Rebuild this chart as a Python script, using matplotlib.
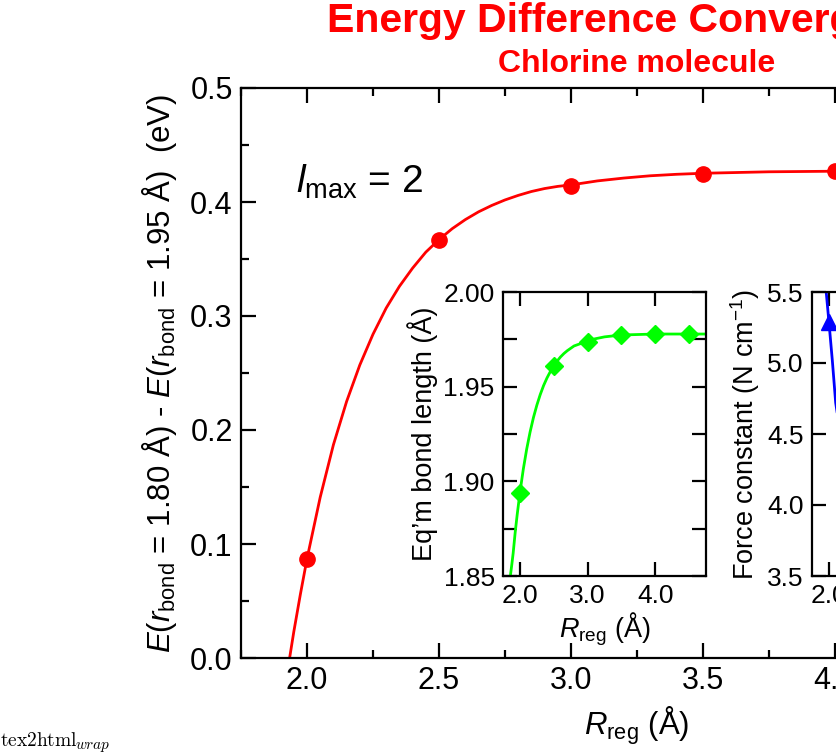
import matplotlib
matplotlib.use("Agg")
import matplotlib.pyplot as plt
from matplotlib.ticker import MultipleLocator, FormatStrFormatter

plt.rcParams['font.family'] = ['Liberation Sans', 'DejaVu Sans']
plt.rcParams['mathtext.fontset'] = 'custom'
plt.rcParams['mathtext.rm'] = 'Liberation Sans'
plt.rcParams['mathtext.it'] = 'Liberation Sans:italic'
plt.rcParams['mathtext.bf'] = 'Liberation Sans:bold'

# ---------------- data ----------------
r_reg = [2.0, 2.5, 3.0, 3.5, 4.0, 4.5]
energy_diff = [0.087, 0.367, 0.414, 0.425, 0.427, 0.427]
fit_r = [1.93, 1.95, 1.975, 2.0, 2.05, 2.1, 2.15, 2.2, 2.25, 2.3, 2.35, 2.4,
         2.45, 2.5, 2.55, 2.6, 2.65, 2.7, 2.75, 2.8, 2.85, 2.9, 2.95, 3.0,
         3.1, 3.2, 3.3, 3.4, 3.5, 3.75, 4.0, 4.5, 4.75]
fit_e = [-0.006, 0.023, 0.056, 0.087, 0.141, 0.187, 0.225, 0.257, 0.284, 0.307,
         0.326, 0.342, 0.356, 0.367, 0.3766, 0.3846, 0.3914, 0.3970, 0.4018,
         0.4058, 0.4092, 0.4118, 0.4137, 0.4150, 0.4185, 0.4210, 0.4230,
         0.4243, 0.4252, 0.4265, 0.427, 0.427, 0.427]

bond_r = [2.0, 2.5, 3.0, 3.5, 4.0, 4.5]
bond_len = [1.894, 1.961, 1.9735, 1.9773, 1.9778, 1.9778]
bond_fit_r = [1.855, 1.88, 1.90, 1.93, 1.96, 2.0, 2.05, 2.1, 2.15, 2.2, 2.25,
              2.3, 2.35, 2.4, 2.45, 2.5, 2.55, 2.6, 2.65, 2.7, 2.8, 2.9, 3.0,
              3.1, 3.25, 3.5, 4.0, 4.75]
bond_fit_l = [1.849, 1.856, 1.862, 1.873, 1.8825, 1.894, 1.9064, 1.917, 1.926,
              1.9337, 1.9402, 1.9458, 1.9506, 1.9546, 1.958, 1.961, 1.9635,
              1.9657, 1.9675, 1.969, 1.9715, 1.9728, 1.9737, 1.9752, 1.9763,
              1.9773, 1.9778, 1.9778]

force_r = [2.0, 2.5, 3.0, 3.5, 4.0, 4.5]
force_k = [5.29, 3.95, 3.80, 3.77, 3.76, 3.76]
force_fit_r = [1.94, 1.96, 2.0, 2.05, 2.1, 2.2, 2.3, 2.4, 2.5, 2.75, 3.0, 3.5, 4.0, 4.75]
force_fit_k = [5.60, 5.50, 5.29, 5.02, 4.72, 4.40, 4.20, 4.05, 3.95, 3.85, 3.80, 3.77, 3.76, 3.76]

title = "Energy Difference Convergence"
subtitle = "Chlorine molecule"

W, H = 836, 753
fig = plt.figure(figsize=(W / 100, H / 100), dpi=100)


def pix_axes(l, r, t, b):
    return fig.add_axes([l / W, 1 - b / H, (r - l) / W, (b - t) / H])


def style(ax, fs, major, minor_len):
    for s in ax.spines.values():
        s.set_linewidth(1.6)
    ax.tick_params(which='both', direction='in', top=True, right=True,
                   width=1.6, labelsize=fs, pad=6)
    ax.tick_params(which='major', length=major)
    ax.tick_params(which='minor', length=minor_len)


# ---------------- main axes ----------------
ax = pix_axes(241, 1033, 88, 658)
ax.plot(fit_r, fit_e, color='#ff0000', lw=2.0, zorder=2)
ax.plot(r_reg, energy_diff, 'o', color='#ff0000', ms=11, zorder=3)
ax.set_xlim(1.75, 4.75)
ax.set_ylim(0.0, 0.5)
ax.xaxis.set_major_locator(MultipleLocator(0.5))
ax.xaxis.set_minor_locator(MultipleLocator(0.25))
ax.yaxis.set_major_locator(MultipleLocator(0.1))
ax.yaxis.set_minor_locator(MultipleLocator(0.05))
ax.xaxis.set_major_formatter(FormatStrFormatter('%.1f'))
ax.yaxis.set_major_formatter(FormatStrFormatter('%.1f'))
style(ax, 22, 11, 5.5)
ax.set_xlabel(r"$R_{\mathrm{reg}}$ (Å)", fontsize=22.5, labelpad=6)
ax.set_ylabel(r"$E$($r_{\mathrm{bond}}$ = 1.80 Å) - $E$($r_{\mathrm{bond}}$ = 1.95 Å)  (eV)",
              fontsize=22.5, labelpad=8)
ax.text(0.07, 0.816, r"$l_{\mathrm{max}}$ = 2", transform=ax.transAxes,
        fontsize=28, ha='left', va='baseline')

# ---------------- inset 1: bond length ----------------
ax1 = pix_axes(503, 706, 292, 576)
ax1.plot(bond_fit_r, bond_fit_l, color='#00ff00', lw=2.0, zorder=2)
ax1.plot(bond_r, bond_len, 'D', color='#00ff00', ms=9, zorder=3)
ax1.set_xlim(1.75, 4.75)
ax1.set_ylim(1.85, 2.00)
ax1.xaxis.set_major_locator(MultipleLocator(1.0))
ax1.yaxis.set_major_locator(MultipleLocator(0.05))
ax1.yaxis.set_minor_locator(MultipleLocator(0.025))
ax1.xaxis.set_major_formatter(FormatStrFormatter('%.1f'))
ax1.yaxis.set_major_formatter(FormatStrFormatter('%.2f'))
style(ax1, 19, 10, 10)
ax1.set_xlabel(r"$R_{\mathrm{reg}}$ (Å)", fontsize=19.5, labelpad=2)
ax1.set_ylabel("Eq’m bond length (Å)", fontsize=19.5, labelpad=4)

# ---------------- inset 2: force constant ----------------
ax2 = pix_axes(812, 1015, 292, 576)
ax2.plot(force_fit_r, force_fit_k, color='#0000ff', lw=2.0, zorder=2)
ax2.plot(force_r, force_k, '^', color='#0000ff', ms=11, zorder=3)
ax2.set_xlim(1.75, 4.75)
ax2.set_ylim(3.5, 5.5)
ax2.xaxis.set_major_locator(MultipleLocator(1.0))
ax2.yaxis.set_major_locator(MultipleLocator(0.5))
ax2.xaxis.set_major_formatter(FormatStrFormatter('%.1f'))
ax2.yaxis.set_major_formatter(FormatStrFormatter('%.1f'))
style(ax2, 19, 10, 10)
ax2.set_ylabel(r"Force constant (N cm$^{-1}$)", fontsize=19.5, labelpad=4)

# ---------------- titles & footer ----------------
fig.text(637 / W, 1 - 32 / H, title, color='#ff0000', fontsize=29.5,
         fontweight='bold', ha='center', va='baseline')
fig.text(637 / W, 1 - 72.5 / H, subtitle, color='#ff0000', fontsize=23,
         fontweight='bold', ha='center', va='baseline')
fig.text(0.0, 1 - 746 / H, r"$\mathrm{tex2html}$", fontsize=14,
         math_fontfamily='cm', ha='left', va='baseline')
fig.text(75 / W, 1 - 749 / H, r"$wrap$", fontsize=11,
         math_fontfamily='cm', ha='left', va='baseline')

fig.savefig("out.png", dpi=100)
